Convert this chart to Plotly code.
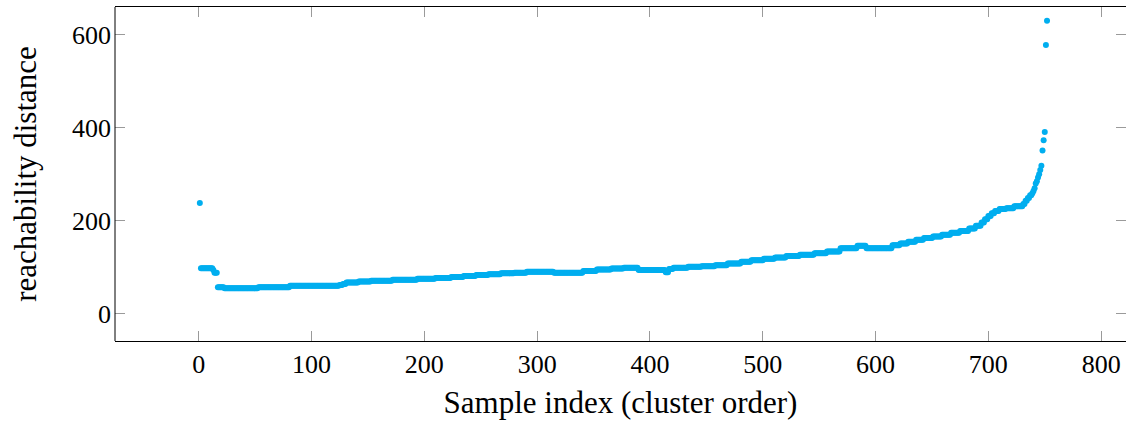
import numpy as np
import plotly.graph_objects as go

# Reachability plot, encoded as plateaus:
# run_start = first sample index of a plateau, run_value = reachability distance on it
run_start = [1, 2, 13, 14, 17, 23, 53, 81, 125, 128, 131, 142, 153, 172, 194,
             210, 224, 235, 246, 257, 268, 280, 291, 315, 341, 353, 366, 377,
             390, 414, 417, 421, 434, 446, 458, 469, 481, 490, 501, 511, 521,
             533, 546, 557, 569, 584, 592, 615, 622, 629, 636, 643, 651, 659,
             667, 675, 683, 689, 694, 697, 700, 703, 706, 710, 716, 723, 731,
             733, 735, 737, 739, 740, 741, 742, 743, 744, 745, 746, 747, 748,
             749, 750, 751, 752]
run_value = [238, 98, 94, 88, 57, 54.5, 57, 60, 62, 64, 67, 69, 71, 73, 75,
             77, 79, 81, 83, 85, 87, 88, 90, 88, 92, 95, 97, 99,
             94, 89, 96, 99, 101, 102, 104, 108, 112, 115, 118, 121, 124,
             127, 130, 134, 141, 146, 140.5, 147, 151, 155, 159, 163, 166, 170,
             174, 178, 183, 189, 196, 203, 210, 216, 221, 225, 227, 231, 236,
             243, 249, 255, 259, 264, 270, 280, 285, 293, 300, 309, 318, 351,
             373, 391, 578, 630]
last_index = 752

x_ticks = [0, 100, 200, 300, 400, 500, 600, 700, 800]
y_ticks = [0, 200, 400, 600]
x_label = "Sample index (cluster order)"
y_label = "reachability distance"

lengths = np.diff(run_start + [last_index + 1])
sample_index = np.arange(run_start[0], last_index + 1)
reach = np.repeat(run_value, lengths)

fig = go.Figure(go.Scatter(
    x=sample_index, y=reach, mode="markers",
    marker=dict(size=6, color="#00AEEF", line=dict(width=0)),
))

font = dict(family="Liberation Serif, DejaVu Serif, serif", size=26, color="black")
fig.update_layout(
    width=1126, height=421,
    margin=dict(l=115, r=0, t=7, b=80, autoexpand=False),
    paper_bgcolor="white", plot_bgcolor="white",
    showlegend=False, font=font,
)
fig.update_xaxes(
    range=[-74.2, 822], tickvals=x_ticks, ticks="inside", ticklen=10,
    tickcolor="#9a9a9a", tickwidth=1, showline=True, linecolor="black",
    linewidth=1, mirror="ticks", showgrid=False, zeroline=False,
    title=dict(text=x_label, standoff=13), tickfont=font, automargin=False,
)
fig.update_yaxes(
    range=[-58.7, 659.6], tickvals=y_ticks, ticks="inside", ticklen=10,
    tickcolor="#9a9a9a", tickwidth=1, showline=False,
    mirror="ticks", showgrid=False, zeroline=False,
    title=dict(text=y_label, standoff=26), tickfont=font,
    ticklabelstandoff=3, automargin=False,
)
fig.add_shape(type="line", xref="x domain", yref="y domain", x0=0, x1=0,
              y0=0, y1=1, line=dict(color="black", width=1))
fig.write_html("out.html", config={"displayModeBar": False},
               post_script="document.body.style.margin='0';document.body.style.overflow='hidden';")
